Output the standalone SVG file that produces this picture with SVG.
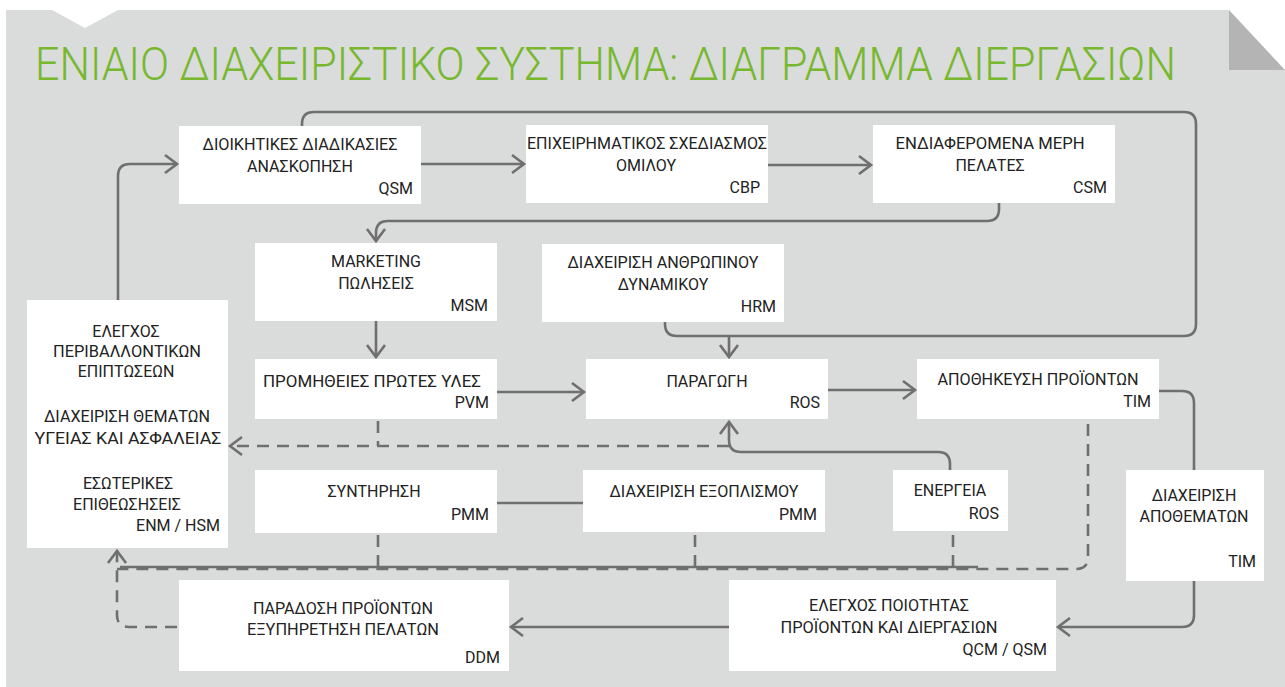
<svg xmlns="http://www.w3.org/2000/svg" width="1285" height="687" viewBox="0 0 1285 687">
<style>
.bg{fill:#dadbdb}
.fold{fill:#b3b4b3}
.box{fill:#ffffff}
.title{font-family:Roboto,"Noto Sans",sans-serif;font-weight:300;font-size:47px;fill:#77b82e}
.t{font-family:Roboto,"Noto Sans",sans-serif;font-weight:400;font-size:16px;fill:#222222}
.c{text-anchor:middle}
.r{text-anchor:end}
.ln{fill:none;stroke:#6f6f6f;stroke-width:2.6;stroke-linejoin:round}
.ds{stroke-dasharray:12 8}
</style>
<defs>
<marker id="ah" markerUnits="userSpaceOnUse" viewBox="-15 -12 18 24" markerWidth="18" markerHeight="24" refX="0" refY="0" orient="auto">
<path d="M-12,-9 L0,0 L-12,9" fill="none" stroke="#6f6f6f" stroke-width="2.6" stroke-dasharray="none"/>
</marker>
</defs>
<polygon class="bg" points="6,10 52,10 85,28 118,10 1229,10 1229,70 1285,70 1285,687 6,687"/>
<polygon class="fold" points="1229,10 1285,70 1229,70"/>
<text class="title" x="35" y="80" textLength="1141" lengthAdjust="spacingAndGlyphs">ΕΝΙΑΙΟ ΔΙΑΧΕΙΡΙΣΤΙΚΟ ΣΥΣΤΗΜΑ: ΔΙΑΓΡΑΜΜΑ ΔΙΕΡΓΑΣΙΩΝ</text>

<g id="qsm">
<rect class="box" x="179" y="126" width="242" height="78"/>
<text class="t c" x="300" y="150" textLength="195" lengthAdjust="spacingAndGlyphs">ΔΙΟΙΚΗΤΙΚΕΣ ΔΙΑΔΙΚΑΣΙΕΣ</text>
<text class="t c" x="300" y="172">ΑΝΑΣΚΟΠΗΣΗ</text>
<text class="t r" x="413" y="194">QSM</text>
</g>
<g id="cbp">
<rect class="box" x="526" y="125" width="242" height="78"/>
<text class="t c" x="647" y="149" textLength="240" lengthAdjust="spacingAndGlyphs">ΕΠΙΧΕΙΡΗΜΑΤΙΚΟΣ ΣΧΕΔΙΑΣΜΟΣ</text>
<text class="t c" x="646" y="171">ΟΜΙΛΟΥ</text>
<text class="t r" x="760" y="193">CBP</text>
</g>
<g id="csm">
<rect class="box" x="873" y="125" width="242" height="78"/>
<text class="t c" x="990" y="149" textLength="189" lengthAdjust="spacingAndGlyphs">ΕΝΔΙΑΦΕΡΟΜΕΝΑ ΜΕΡΗ</text>
<text class="t c" x="990" y="171">ΠΕΛΑΤΕΣ</text>
<text class="t r" x="1107" y="193">CSM</text>
</g>
<g id="msm">
<rect class="box" x="255" y="243" width="242" height="78"/>
<text class="t c" x="376" y="267">MARKETING</text>
<text class="t c" x="376" y="289">ΠΩΛΗΣΕΙΣ</text>
<text class="t r" x="488" y="311">MSM</text>
</g>
<g id="hrm">
<rect class="box" x="542" y="244" width="242" height="78"/>
<text class="t c" x="663" y="268" textLength="191" lengthAdjust="spacingAndGlyphs">ΔΙΑΧΕΙΡΙΣΗ ΑΝΘΡΩΠΙΝΟΥ</text>
<text class="t c" x="663" y="290">ΔΥΝΑΜΙΚΟΥ</text>
<text class="t r" x="776" y="312">HRM</text>
</g>
<g id="enm-hsm">
<rect class="box" x="27" y="300" width="201" height="248"/>
<text class="t c" x="126" y="337">ΕΛΕΓΧΟΣ</text>
<text class="t c" x="127" y="357" textLength="148" lengthAdjust="spacingAndGlyphs">ΠΕΡΙΒΑΛΛΟΝΤΙΚΩΝ</text>
<text class="t c" x="126" y="377">ΕΠΙΠΤΩΣΕΩΝ</text>
<text class="t c" x="127" y="422" textLength="166" lengthAdjust="spacingAndGlyphs">ΔΙΑΧΕΙΡΙΣΗ ΘΕΜΑΤΩΝ</text>
<text class="t c" x="128" y="444" textLength="187" lengthAdjust="spacingAndGlyphs">ΥΓΕΙΑΣ ΚΑΙ ΑΣΦΑΛΕΙΑΣ</text>
<text class="t c" x="128" y="489">ΕΣΩΤΕΡΙΚΕΣ</text>
<text class="t c" x="127" y="510">ΕΠΙΘΕΩΣΗΣΕΙΣ</text>
<text class="t r" x="220" y="531">ENM / HSM</text>
</g>
<g id="pvm">
<rect class="box" x="255" y="359" width="242" height="60"/>
<text class="t c" x="372" y="387" textLength="218" lengthAdjust="spacingAndGlyphs">ΠΡΟΜΗΘΕΙΕΣ ΠΡΩΤΕΣ ΥΛΕΣ</text>
<text class="t r" x="489" y="408">PVM</text>
</g>
<g id="ros">
<rect class="box" x="586" y="359" width="242" height="60"/>
<text class="t c" x="707" y="387">ΠΑΡΑΓΩΓΗ</text>
<text class="t r" x="820" y="408">ROS</text>
</g>
<g id="tim">
<rect class="box" x="917" y="359" width="242" height="60"/>
<text class="t c" x="1038" y="385" textLength="201" lengthAdjust="spacingAndGlyphs">ΑΠΟΘΗΚΕΥΣΗ ΠΡΟΪΟΝΤΩΝ</text>
<text class="t r" x="1151" y="407">TIM</text>
</g>
<g id="pmm-maint">
<rect class="box" x="255" y="470" width="242" height="63"/>
<text class="t c" x="374" y="497">ΣΥΝΤΗΡΗΣΗ</text>
<text class="t r" x="489" y="520">PMM</text>
</g>
<g id="pmm-equip">
<rect class="box" x="583" y="470" width="242" height="62"/>
<text class="t c" x="704" y="497" textLength="189" lengthAdjust="spacingAndGlyphs">ΔΙΑΧΕΙΡΙΣΗ ΕΞΟΠΛΙΣΜΟΥ</text>
<text class="t r" x="817" y="520">PMM</text>
</g>
<g id="ros-energy">
<rect class="box" x="893" y="470" width="115" height="61"/>
<text class="t c" x="950" y="496">ΕΝΕΡΓΕΙΑ</text>
<text class="t r" x="999" y="519">ROS</text>
</g>
<g id="tim-stock">
<rect class="box" x="1126" y="470" width="138" height="111"/>
<text class="t c" x="1194" y="501">ΔΙΑΧΕΙΡΙΣΗ</text>
<text class="t c" x="1194" y="522">ΑΠΟΘΕΜΑΤΩΝ</text>
<text class="t r" x="1256" y="567">TIM</text>
</g>
<g id="ddm">
<rect class="box" x="179" y="580" width="330" height="91"/>
<text class="t c" x="343" y="614" textLength="180" lengthAdjust="spacingAndGlyphs">ΠΑΡΑΔΟΣΗ ΠΡΟΪΟΝΤΩΝ</text>
<text class="t c" x="343" y="635" textLength="192" lengthAdjust="spacingAndGlyphs">ΕΞΥΠΗΡΕΤΗΣΗ ΠΕΛΑΤΩΝ</text>
<text class="t r" x="500" y="663">DDM</text>
</g>
<g id="qcm">
<rect class="box" x="729" y="580" width="327" height="91"/>
<text class="t c" x="889" y="611" textLength="160" lengthAdjust="spacingAndGlyphs">ΕΛΕΓΧΟΣ ΠΟΙΟΤΗΤΑΣ</text>
<text class="t c" x="889" y="633" textLength="217" lengthAdjust="spacingAndGlyphs">ΠΡΟΪΟΝΤΩΝ ΚΑΙ ΔΙΕΡΓΑΣΙΩΝ</text>
<text class="t r" x="1047" y="655">QCM / QSM</text>
</g>

<g id="connectors">
<path class="ln" d="M118,300 V176 Q118,164 130,164 H177" marker-end="url(#ah)"/>
<path class="ln" d="M421,164 H524" marker-end="url(#ah)"/>
<path class="ln" d="M768,165 H871" marker-end="url(#ah)"/>
<path class="ln" d="M302,126 V124 Q302,112 314,112 H1184 Q1196,112 1196,124 V324 Q1196,336 1184,336 H677 Q665,336 665,324 V322"/>
<path class="ln" d="M729,336 V357" marker-end="url(#ah)"/>
<path class="ln" d="M999,203 V209 Q999,221 987,221 H388 Q376,221 376,233 V241" marker-end="url(#ah)"/>
<path class="ln" d="M376,321 V357" marker-end="url(#ah)"/>
<path class="ln" d="M497,392 H584" marker-end="url(#ah)"/>
<path class="ln" d="M828,390 H915" marker-end="url(#ah)"/>
<path class="ln" d="M950,470 V464 Q950,452 938,452 H741 Q729,452 729,440 V422" marker-end="url(#ah)"/>
<path class="ln" d="M1159,391 H1182 Q1194,391 1194,403 V470"/>
<path class="ln" d="M1194,581 V615 Q1194,627 1182,627 H1058" marker-end="url(#ah)"/>
<path class="ln" d="M729,627 H511" marker-end="url(#ah)"/>
<path class="ln" d="M497,503 H583"/>
<path class="ln" d="M120,567 H978"/>
<path class="ln ds" d="M729,446 H230" marker-end="url(#ah)"/>
<path class="ln ds" d="M378,421 V446"/>
<path class="ln ds" d="M1088,424 V557 Q1088,569 1076,569 H117"/>
<path class="ln ds" d="M378,535 V568"/>
<path class="ln ds" d="M695,535 V568"/>
<path class="ln ds" d="M953,535 V568"/>
<path class="ln ds" d="M177,627 H129 Q117,627 117,615 V551" marker-end="url(#ah)"/>
</g>
</svg>
